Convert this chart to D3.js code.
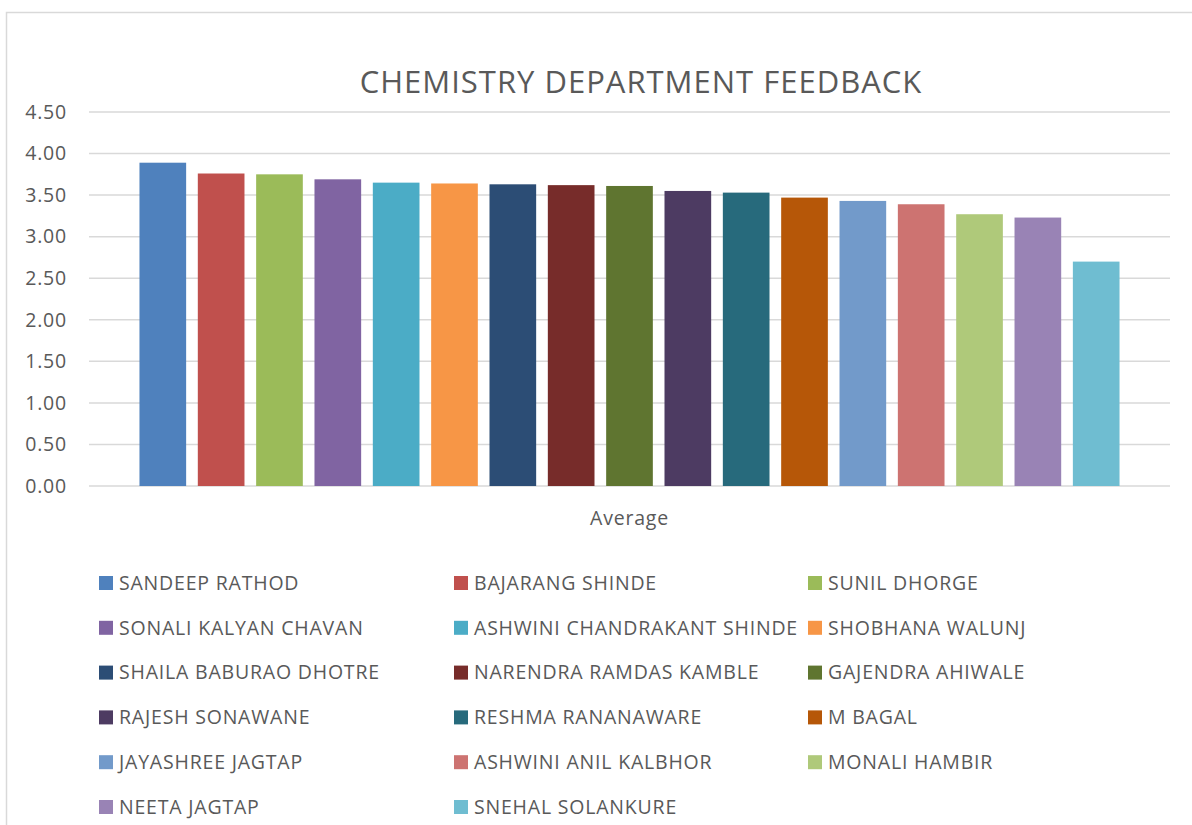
<!DOCTYPE html>
<html>
<head>
<meta charset="utf-8">
<script src="https://cdn.jsdelivr.net/npm/d3@7"></script>
<style>
  body { margin: 0; background: #fff; }
  text { font-family: "Open Sans", sans-serif; fill: #595959; }
</style>
</head>
<body>
<svg id="chart" width="1192" height="825"></svg>
<script>
const CATEGORIES = ["Average"];
const TEACHERS = [
  "SANDEEP RATHOD", "BAJARANG SHINDE", "SUNIL DHORGE",
  "SONALI KALYAN CHAVAN", "ASHWINI CHANDRAKANT SHINDE", "SHOBHANA WALUNJ",
  "SHAILA BABURAO DHOTRE", "NARENDRA RAMDAS KAMBLE", "GAJENDRA AHIWALE",
  "RAJESH SONAWANE", "RESHMA RANANAWARE", "M BAGAL",
  "JAYASHREE JAGTAP", "ASHWINI ANIL KALBHOR", "MONALI HAMBIR",
  "NEETA JAGTAP", "SNEHAL SOLANKURE"
];
const AVERAGES = [3.89, 3.76, 3.75, 3.69, 3.65, 3.64, 3.63, 3.62, 3.61,
  3.55, 3.53, 3.47, 3.43, 3.39, 3.27, 3.23, 2.70];
const COLORS = [
  "#4F81BD", "#C0504D", "#9BBB59", "#8064A2", "#4BACC6", "#F79646",
  "#2C4D75", "#772C2A", "#5F7530", "#4D3B62", "#276A7C", "#B65708",
  "#729ACA", "#CD7371", "#AFC97A", "#9983B5", "#6FBDD1"
];
const Y_TICKS = [0, 0.5, 1, 1.5, 2, 2.5, 3, 3.5, 4, 4.5];

const svg = d3.select("#chart");

// chart area border (only top + left visible in the crop)
svg.append("rect")
  .attr("x", 6.5).attr("y", 12.5)
  .attr("width", 1300).attr("height", 900)
  .attr("fill", "none")
  .attr("stroke", "#d9d9d9")
  .attr("stroke-width", 1.5);

const plot = { left: 89, right: 1170, top: 112, bottom: 486 };

const y = d3.scaleLinear().domain([0, 4.5]).range([plot.bottom, plot.top]);

const x0 = d3.scaleBand()
  .domain(CATEGORIES)
  .range([plot.left, plot.right])
  .paddingOuter(0.0515);

const x1 = d3.scaleBand()
  .domain(TEACHERS)
  .range([0, x0.bandwidth()])
  .paddingInner(0.2);

const color = d3.scaleOrdinal().domain(TEACHERS).range(COLORS);

// gridlines
svg.append("g")
  .selectAll("line")
  .data(Y_TICKS)
  .join("line")
  .attr("x1", plot.left).attr("x2", plot.right)
  .attr("y1", (d) => y(d)).attr("y2", (d) => y(d))
  .attr("stroke", "#d9d9d9")
  .attr("stroke-width", 1.5);

// y tick labels
svg.append("g")
  .selectAll("text")
  .data(Y_TICKS)
  .join("text")
  .attr("x", 67)
  .attr("y", (d) => y(d))
  .attr("dy", "0.35em")
  .attr("text-anchor", "end")
  .style("font-size", "19.5px")
  .style("letter-spacing", "0.8px")
  .text((d) => d3.format(".2f")(d));

// bars
const rows = TEACHERS.map((name, i) => ({ name, value: AVERAGES[i] }));
svg.append("g")
  .attr("transform", `translate(${x0("Average")},0)`)
  .selectAll("rect")
  .data(rows)
  .join("rect")
  .attr("x", (d) => x1(d.name))
  .attr("y", (d) => y(d.value))
  .attr("width", x1.bandwidth())
  .attr("height", (d) => y(0) - y(d.value))
  .attr("fill", (d) => color(d.name));

// category label
svg.append("text")
  .attr("x", x0("Average") + x0.bandwidth() / 2)
  .attr("y", 518)
  .attr("dy", "0.35em")
  .attr("text-anchor", "middle")
  .style("font-size", "19.5px")
  .style("letter-spacing", "0.8px")
  .text(CATEGORIES[0]);

// title
svg.append("text")
  .attr("x", 641)
  .attr("y", 82)
  .attr("dy", "0.35em")
  .attr("text-anchor", "middle")
  .style("font-size", "31px")
  .style("letter-spacing", "1px")
  .text("CHEMISTRY DEPARTMENT FEEDBACK");

// legend, 3 columns
const legendCols = [99, 454, 808];
const legendRowY = (r) => 583 + r * 44.8;
const legend = svg.append("g")
  .selectAll("g")
  .data(TEACHERS)
  .join("g")
  .attr("transform", (d, i) =>
    `translate(${legendCols[i % 3]},${legendRowY(Math.floor(i / 3))})`);

legend.append("rect")
  .attr("x", 0).attr("y", -7)
  .attr("width", 14).attr("height", 14)
  .attr("fill", (d) => color(d));

legend.append("text")
  .attr("x", 20)
  .attr("dy", "0.35em")
  .style("font-size", "19.5px")
  .style("letter-spacing", "0.8px")
  .text((d) => d);
</script>
</body>
</html>
